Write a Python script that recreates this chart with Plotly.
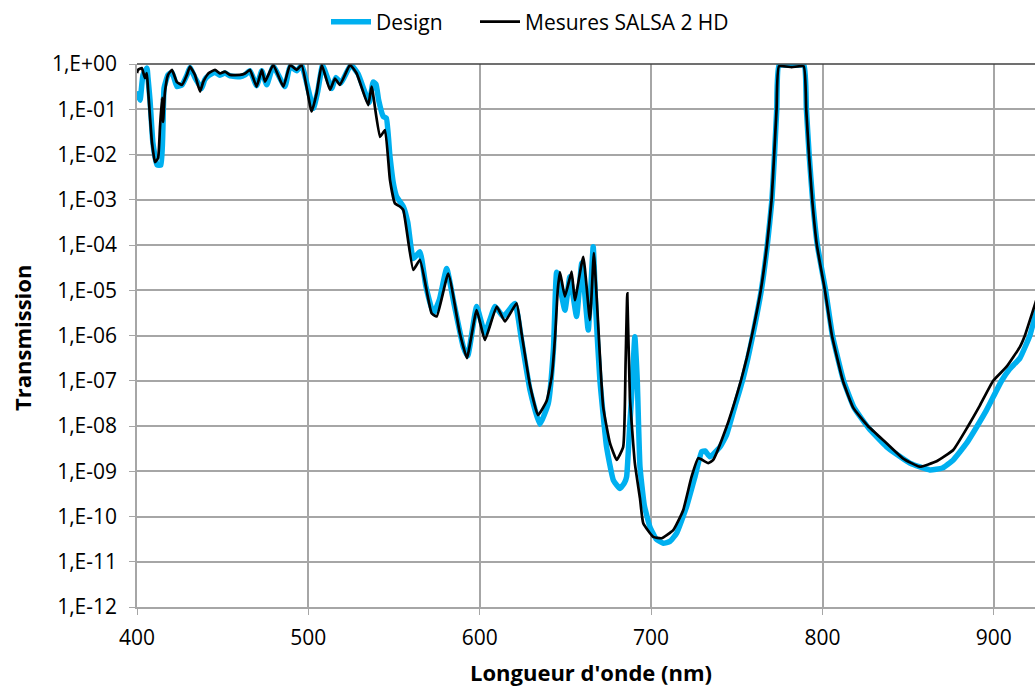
import numpy as np
import plotly.graph_objects as go

# ---- Data (log10 of transmission) ----
design_nm = [400.0, 400.6, 401.8, 403.5, 405.8, 406.4, 407.6, 409.3, 411.7, 414.0, 415.2, 415.8, 418.1,
             420.4, 423.3, 426.3, 429.2, 430.9, 433.8, 437.7, 439.5, 442.0, 445.5, 448.4, 451.3, 454.3,
             460.1, 463.0, 465.9, 469.8, 472.8, 475.7, 479.5, 486.3, 489.3, 493.2, 496.1, 502.9, 505.5,
             508.3, 513.6, 516.0, 519.0, 524.8, 529.0, 535.5, 537.8, 539.5, 541.0, 543.7, 545.5, 547.5,
             549.6, 551.5, 555.4, 558.0, 561.2, 565.1, 568.5, 572.9, 576.5, 580.7, 585.0, 590.4, 593.0,
             598.2, 603.0, 608.9, 613.7, 620.5, 624.4, 629.3, 635.1, 640.0, 643.0, 644.9, 649.7, 652.6,
             656.5, 659.5, 663.3, 666.2, 667.8, 670.1, 674.0, 678.0, 681.8, 684.5, 685.7, 687.5, 688.6,
             690.5, 691.9, 693.5, 696.0, 699.3, 703.0, 707.1, 711.0, 714.9, 720.7, 725.6, 729.5, 731.5,
             734.3, 740.2, 744.0, 749.0, 753.3, 756.5, 759.3, 764.3, 767.8, 770.5, 772.0, 773.3, 774.6,
             782.0, 789.2, 790.6, 792.2, 794.2, 797.0, 801.8, 805.8, 812.3, 818.5, 827.0, 837.4, 851.0,
             862.6, 870.0, 876.3, 884.1, 890.3, 895.7, 904.5, 909.0, 915.2, 921.0, 923.9, 930.0]
design_log10T = [-0.60, -0.68, -0.80, -0.24, -0.09, -0.30, -0.80, -1.75, -2.23, -2.23, -1.28, -0.53, -0.24,
                 -0.18, -0.50, -0.46, -0.24, -0.08, -0.30, -0.54, -0.35, -0.25, -0.18, -0.25, -0.20, -0.26,
                 -0.28, -0.24, -0.15, -0.48, -0.15, -0.46, -0.05, -0.50, -0.05, -0.15, -0.03, -0.98, -0.60,
                 -0.03, -0.54, -0.30, -0.42, -0.02, -0.22, -0.85, -0.40, -0.45, -0.80, -1.16, -1.20, -2.00,
                 -2.64, -2.93, -3.15, -3.50, -4.30, -4.15, -4.90, -5.51, -5.20, -4.52, -5.30, -6.25, -6.45,
                 -5.36, -5.95, -5.36, -5.58, -5.29, -6.10, -7.20, -7.96, -7.50, -6.30, -4.60, -5.44, -4.70,
                 -5.58, -4.40, -5.88, -4.04, -5.51, -6.98, -8.46, -9.20, -9.38, -9.25, -9.12, -8.00, -7.35,
                 -6.03, -6.98, -8.90, -9.75, -10.23, -10.50, -10.59, -10.55, -10.37, -9.78, -9.12, -8.57, -8.55,
                 -8.68, -8.46, -8.20, -7.55, -7.00, -6.50, -6.00, -5.00, -4.00, -3.00, -2.00, -1.00, -0.03,
                 -0.03, -0.03, -1.00, -2.00, -3.00, -4.00, -5.00, -6.00, -7.00, -7.60, -8.05, -8.46, -8.82,
                 -8.97, -8.93, -8.75, -8.38, -8.00, -7.65, -7.00, -6.75, -6.50, -6.00, -5.60, -4.90]

mesures_nm = [400.0, 400.6, 402.8, 404.6, 405.7, 406.4, 408.7, 410.5, 412.3, 413.4, 414.6, 415.2, 416.3,
              418.1, 420.4, 423.3, 426.3, 429.1, 430.9, 433.8, 436.8, 438.7, 441.6, 445.5, 448.4, 451.3,
              454.3, 460.1, 463.0, 465.9, 469.8, 472.8, 474.7, 479.5, 485.4, 489.3, 493.2, 496.1, 501.9,
              504.8, 507.8, 512.6, 515.5, 518.4, 524.3, 528.2, 534.9, 536.9, 541.8, 544.7, 547.6, 550.5,
              553.4, 555.4, 561.2, 565.1, 571.9, 574.9, 581.6, 588.4, 592.5, 598.2, 603.0, 609.9, 614.7,
              621.5, 624.4, 629.3, 634.0, 639.0, 642.0, 644.0, 645.5, 646.8, 649.7, 653.6, 655.5, 660.4,
              664.3, 666.6, 668.2, 672.0, 676.0, 679.9, 683.7, 685.1, 686.1, 687.6, 690.5, 693.5, 695.4,
              701.2, 706.1, 712.9, 718.7, 723.6, 727.5, 733.3, 736.2, 744.2, 748.5, 752.4, 755.8, 758.8,
              764.0, 767.6, 770.3, 771.8, 773.2, 774.6, 782.0, 789.0, 790.5, 792.1, 794.0, 796.7, 801.4,
              805.5, 811.9, 818.0, 826.5, 837.4, 847.1, 856.8, 866.6, 876.3, 885.0, 891.8, 899.6, 907.4,
              915.2, 918.1, 922.9, 930.0]
mesures_log10T = [-0.20, -0.13, -0.09, -0.31, -0.20, -0.53, -1.72, -2.17, -2.08, -1.41, -0.75, -1.28, -0.62,
                  -0.24, -0.13, -0.40, -0.46, -0.24, -0.06, -0.24, -0.61, -0.39, -0.21, -0.13, -0.21, -0.17,
                  -0.24, -0.24, -0.21, -0.13, -0.50, -0.13, -0.39, -0.02, -0.50, -0.02, -0.13, -0.02, -1.05,
                  -0.65, -0.02, -0.57, -0.32, -0.46, -0.02, -0.21, -0.91, -0.50, -1.61, -1.46, -2.56, -3.08,
                  -3.15, -3.23, -4.55, -4.33, -5.51, -5.58, -4.63, -5.95, -6.50, -5.44, -6.10, -5.36, -5.69,
                  -5.29, -5.95, -7.10, -7.76, -7.45, -6.90, -6.00, -5.00, -4.60, -5.14, -4.59, -5.22, -4.26,
                  -5.66, -4.18, -5.14, -7.57, -8.38, -8.75, -8.46, -6.61, -5.07, -7.35, -8.82, -9.60, -10.15,
                  -10.45, -10.48, -10.30, -9.86, -9.12, -8.71, -8.82, -8.75, -8.00, -7.50, -7.00, -6.50, -6.00,
                  -5.00, -4.00, -3.00, -2.00, -1.00, -0.05, -0.07, -0.05, -1.00, -2.00, -3.00, -4.00, -5.00,
                  -6.00, -7.00, -7.60, -8.00, -8.38, -8.72, -8.90, -8.78, -8.53, -8.00, -7.55, -7.00, -6.69,
                  -6.25, -6.00, -5.44, -4.60]

x_ticks = [400, 500, 600, 700, 800, 900]
y_exponents = list(range(0, -13, -1))
y_ticktext = ["1,E+00"] + ["1,E-%02d" % (-e) for e in y_exponents[1:]]

design_T = np.power(10.0, np.array(design_log10T))
mesures_T = np.power(10.0, np.array(mesures_log10T))

FONT = "Open Sans"
GRID = "#a6a6a6"

W, H = 1035, 686
L, T, B = 137, 64, 79
PW, PH = W - L, H - T - B

fig = go.Figure()
fig.add_trace(go.Scatter(x=design_nm, y=design_T, mode="lines", name="Design", legend="legend",
                         line=dict(color="#00b0f0", width=5.5, shape="spline", smoothing=0.4)))
fig.add_trace(go.Scatter(x=mesures_nm, y=mesures_T, mode="lines", name="Mesures SALSA 2 HD",
                         legend="legend2",
                         line=dict(color="#000000", width=2.7, shape="spline", smoothing=0.4)))

leg_common = dict(orientation="h", xanchor="left", y=1 + (64 - 22) / PH, yanchor="middle",
                  font=dict(size=21), bgcolor="rgba(0,0,0,0)", itemwidth=40)

fig.update_layout(
    width=W, height=H,
    margin=dict(l=L, r=0, t=T, b=B, pad=0),
    paper_bgcolor="white", plot_bgcolor="white",
    font=dict(family=FONT, size=21, color="#000000"),
    showlegend=True,
    legend=dict(x=(326 - L) / PW, **leg_common),
    legend2=dict(x=(475 - L) / PW, **leg_common),
    xaxis=dict(range=[400, 924], tickvals=x_ticks, ticks="outside", ticklen=6, tickcolor=GRID,
               showline=True, linecolor=GRID, linewidth=1.5, showgrid=True, gridcolor=GRID,
               gridwidth=1.5, zeroline=False, ticklabelstandoff=5, tickfont=dict(size=21)),
    yaxis=dict(type="log", range=[-12, 0], tickvals=[10.0 ** e for e in y_exponents],
               ticktext=y_ticktext, ticks="outside", ticklen=6, tickcolor=GRID,
               showline=True, linecolor=GRID, linewidth=1.5, showgrid=True, gridcolor=GRID,
               gridwidth=1.5, zeroline=False, ticklabelstandoff=8, tickfont=dict(size=21)),
)
fig.add_annotation(text="<b>Longueur d'onde (nm)</b>", xref="paper", yref="paper",
                   x=(591 - L) / PW, y=-(672 - 607) / PH, xanchor="center", yanchor="middle",
                   showarrow=False, font=dict(size=22))
fig.add_annotation(text="<b>Transmission</b>", xref="paper", yref="paper",
                   x=(22 - L) / PW, y=1 - (338 - 64) / PH, xanchor="center", yanchor="middle",
                   textangle=-90, showarrow=False, font=dict(size=22))
fig.add_shape(type="line", xref="paper", yref="paper", x0=0, x1=1, y0=1, y1=1,
              line=dict(color="#404040", width=1.5))

fig.write_html("out.html", config={"displayModeBar": False},
               post_script="document.body.style.margin='0';document.body.style.overflow='hidden';")
